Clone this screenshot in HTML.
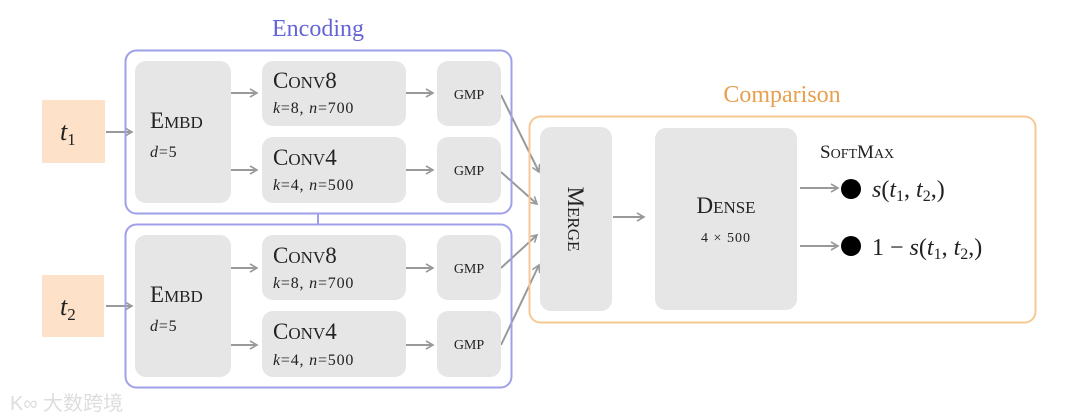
<!DOCTYPE html>
<html><head><meta charset="utf-8"><style>
html,body{margin:0;padding:0;background:#fff;}
svg{display:block;}
text{font-family:"Liberation Serif","Noto Serif CJK SC",serif;fill:#222;}
</style></head><body>
<svg width="1080" height="420" viewBox="0 0 1080 420" xmlns="http://www.w3.org/2000/svg">
<defs>
<marker id="a" markerWidth="10" markerHeight="10" refX="8" refY="5" orient="auto" markerUnits="userSpaceOnUse">
<path d="M1,1 L8,5 L1,9" fill="none" stroke="#999" stroke-width="1.6"/>
</marker>
</defs>
<g fill="none" stroke="#999" stroke-width="2" marker-end="url(#a)">
<line x1="106" y1="132" x2="132" y2="132"/>
<line x1="106" y1="306" x2="132" y2="306"/>
<line x1="231" y1="93" x2="257" y2="93"/>
<line x1="231" y1="170" x2="257" y2="170"/>
<line x1="231" y1="268" x2="257" y2="268"/>
<line x1="231" y1="345" x2="257" y2="345"/>
<line x1="406" y1="93" x2="433" y2="93"/>
<line x1="406" y1="170" x2="433" y2="170"/>
<line x1="406" y1="268" x2="433" y2="268"/>
<line x1="406" y1="345" x2="433" y2="345"/>
<line x1="501" y1="95" x2="539" y2="172"/>
<line x1="501" y1="172" x2="537" y2="204"/>
<line x1="501" y1="268" x2="537" y2="235"/>
<line x1="501" y1="345" x2="539" y2="265"/>
<line x1="613" y1="217" x2="644" y2="217"/>
<line x1="800" y1="188" x2="838" y2="188"/>
<line x1="800" y1="246" x2="838" y2="246"/>
</g>
<text x="318" y="36" font-size="24" text-anchor="middle" style="fill:#6464d6">Encoding</text>
<rect x="125.5" y="50.5" width="386" height="163" rx="11" fill="none" stroke="#a0a0ea" stroke-width="2"/>
<rect x="125.5" y="224.5" width="386" height="163" rx="11" fill="none" stroke="#a0a0ea" stroke-width="2"/>
<line x1="318" y1="213" x2="318" y2="224" stroke="#a0a0ea" stroke-width="2"/>
<rect x="42" y="100" width="63" height="63" fill="#fde2c9"/>
<rect x="42" y="275" width="62" height="62" fill="#fde2c9"/>
<text x="60" y="140" font-size="26" font-style="italic">t<tspan font-size="17" dy="5" font-style="normal">1</tspan></text>
<text x="60" y="315" font-size="26" font-style="italic">t<tspan font-size="17" dy="5" font-style="normal">2</tspan></text>
<g fill="#e6e6e6">
<rect x="135" y="61" width="96" height="142" rx="11"/>
<rect x="135" y="235" width="96" height="142" rx="11"/>
<rect x="262" y="61" width="144" height="65" rx="11"/>
<rect x="262" y="137" width="144" height="66" rx="11"/>
<rect x="262" y="235" width="144" height="65" rx="11"/>
<rect x="262" y="311" width="144" height="66" rx="11"/>
<rect x="437" y="61" width="64" height="65" rx="11"/>
<rect x="437" y="137" width="64" height="66" rx="11"/>
<rect x="437" y="235" width="64" height="65" rx="11"/>
<rect x="437" y="311" width="64" height="66" rx="11"/>
<rect x="540" y="127" width="72" height="184" rx="11"/>
<rect x="655" y="128" width="142" height="182" rx="11"/>
</g>
<g font-size="23">
<text x="150" y="128">E<tspan font-size="17">MBD</tspan></text>
<text x="150" y="302">E<tspan font-size="17">MBD</tspan></text>
<text x="273" y="88">C<tspan font-size="17">ONV</tspan>8</text>
<text x="273" y="165">C<tspan font-size="17">ONV</tspan>4</text>
<text x="273" y="263">C<tspan font-size="17">ONV</tspan>8</text>
<text x="273" y="339">C<tspan font-size="17">ONV</tspan>4</text>
</g>
<g font-size="16" letter-spacing="0.8">
<text x="150" y="157"><tspan font-style="italic">d</tspan>=5</text>
<text x="150" y="331"><tspan font-style="italic">d</tspan>=5</text>
<text x="273" y="113"><tspan font-style="italic">k</tspan>=8, <tspan font-style="italic">n</tspan>=700</text>
<text x="273" y="190"><tspan font-style="italic">k</tspan>=4, <tspan font-style="italic">n</tspan>=500</text>
<text x="273" y="288"><tspan font-style="italic">k</tspan>=8, <tspan font-style="italic">n</tspan>=700</text>
<text x="273" y="365"><tspan font-style="italic">k</tspan>=4, <tspan font-style="italic">n</tspan>=500</text>
</g>
<g font-size="14" text-anchor="middle">
<text x="469" y="99">GMP</text>
<text x="469" y="175">GMP</text>
<text x="469" y="273">GMP</text>
<text x="469" y="349">GMP</text>
</g>
<text x="782" y="102" font-size="24" text-anchor="middle" style="fill:#e8a04e">Comparison</text>
<rect x="529.5" y="116.5" width="506" height="206" rx="11" fill="none" stroke="#f6c994" stroke-width="2"/>
<text transform="translate(568,219) rotate(90)" font-size="23" text-anchor="middle">M<tspan font-size="17">ERGE</tspan></text>
<text x="726" y="213" font-size="23" text-anchor="middle">D<tspan font-size="17">ENSE</tspan></text>
<text x="726" y="242" font-size="14" text-anchor="middle" letter-spacing="1">4 × 500</text>
<text x="820" y="158" font-size="19">S<tspan font-size="14">OFT</tspan>M<tspan font-size="14">AX</tspan></text>
<circle cx="851" cy="189" r="10" fill="#000"/>
<circle cx="851" cy="246" r="10" fill="#000"/>
<text x="872" y="197" font-size="24"><tspan font-style="italic">s</tspan>(<tspan font-style="italic">t</tspan><tspan font-size="16" dy="4">1</tspan><tspan dy="-4">, </tspan><tspan font-style="italic">t</tspan><tspan font-size="16" dy="4">2</tspan><tspan dy="-4">,)</tspan></text>
<text x="872" y="255" font-size="24">1 − <tspan font-style="italic">s</tspan>(<tspan font-style="italic">t</tspan><tspan font-size="16" dy="4">1</tspan><tspan dy="-4">, </tspan><tspan font-style="italic">t</tspan><tspan font-size="16" dy="4">2</tspan><tspan dy="-4">,)</tspan></text>
<text x="10" y="410" font-size="20" style="fill:#ddd;font-family:'Liberation Sans','Noto Sans CJK SC',sans-serif">K∞ 大数跨境</text>
</svg>
</body></html>
